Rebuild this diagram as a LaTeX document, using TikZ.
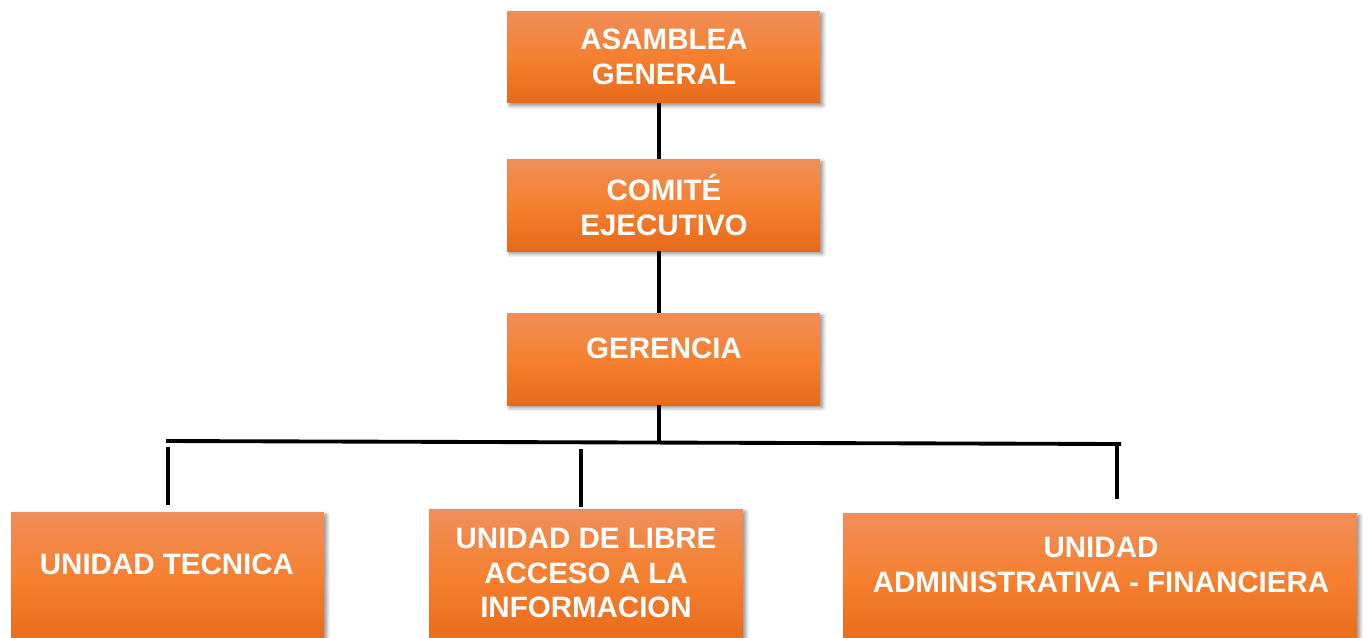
\documentclass[tikz,border=0pt]{standalone}
\usepackage{fontspec}
\setmainfont{Liberation Sans}
\usetikzlibrary{shadows.blur}
\definecolor{otop}{RGB}{240,142,88}
\definecolor{omid}{RGB}{245,128,48}
\definecolor{obot}{RGB}{230,106,26}
\tikzset{
  obox/.style={rectangle, inner sep=0pt, top color=otop, bottom color=obot, middle color=omid,
    blur shadow={shadow xshift=1.6pt, shadow yshift=-1.6pt, shadow blur steps=6, shadow opacity=45}},
  otext/.style={text=white, font=\fontsize{16.8}{19.6}\selectfont\bfseries, align=center, inner sep=0pt},
  conn/.style={line width=2.2pt, black}
}
\begin{document}
\begin{tikzpicture}[x=0.02cm, y=-0.02cm]
\useasboundingbox (0,0) rectangle (1368,637);
\clip (0,0) rectangle (1368,637);
% boxes
\node[obox, minimum width=6.26cm, minimum height=1.84cm] (asamblea) at (663.5,57) {};
\node[obox, minimum width=6.26cm, minimum height=1.84cm] (comite) at (663.5,205) {};
\node[obox, minimum width=6.26cm, minimum height=1.84cm] (gerencia) at (663.5,359) {};
\node[obox, minimum width=6.26cm, minimum height=2.66cm] (tecnica) at (167.5,578.5) {};
\node[obox, minimum width=6.28cm, minimum height=2.72cm] (libre) at (586,577) {};
\node[obox, minimum width=10.28cm, minimum height=2.64cm] (admin) at (1100,579) {};
% texts
\node[otext] (tasamblea) at (664,57) {ASAMBLEA\\GENERAL};
\node[otext] (tcomite) at (664,205) {COMITÉ\\EJECUTIVO};
\node[otext] (tgerencia) at (664,348) {GERENCIA};
\node[otext] (ttecnica) at (167,564) {UNIDAD TECNICA};
\node[otext] (tlibre) at (586,573) {UNIDAD DE LIBRE\\ACCESO A LA\\INFORMACION};
\node[otext] (tadmin) at (1101,565) {UNIDAD\\ADMINISTRATIVA - FINANCIERA};
% connector coordinates
\coordinate (bus) at (659,443);
\coordinate (busL) at (166,441);
\coordinate (busR) at (1121,444);
\coordinate (t1) at (168,447);
\coordinate (b1) at (168,505);
\coordinate (t2) at (581,449);
\coordinate (b2) at (581,507);
\coordinate (t3) at (1117,444);
\coordinate (b3) at (1117,499);
% connectors
\draw[conn] (asamblea.south -| bus) -- (comite.north -| bus);
\draw[conn] (comite.south -| bus) -- (gerencia.north -| bus);
\draw[conn] (gerencia.south -| bus) -- (bus);
\draw[conn] (busL) -- (busR);
\draw[conn] (t1) -- (b1);
\draw[conn] (t2) -- (b2);
\draw[conn] (t3) -- (b3);
\end{tikzpicture}
\end{document}
